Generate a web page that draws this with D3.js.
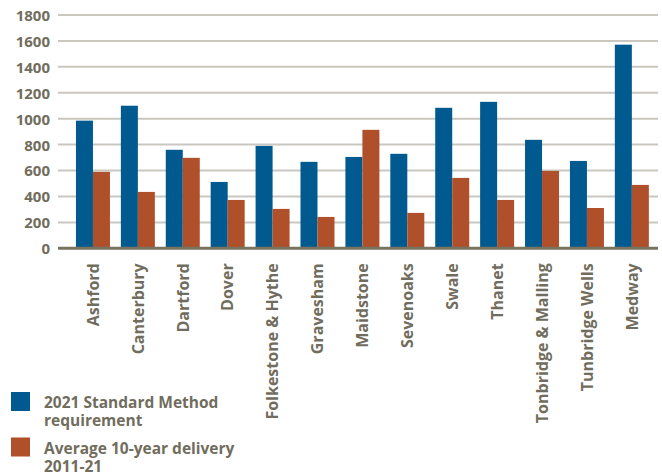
<!DOCTYPE html>
<html>
<head>
<meta charset="utf-8">
<script src="https://cdn.jsdelivr.net/npm/d3@7"></script>
<style>
  body { margin: 0; background: #fff; }
  svg text { font-family: "Open Sans", sans-serif; font-weight: bold; fill: #716d5e; }
</style>
</head>
<body>
<svg id="chart" width="662" height="476"></svg>
<script>
// councils along the x axis
const councils = ['Ashford', 'Canterbury', 'Dartford', 'Dover', 'Folkestone & Hythe', 'Gravesham',
  'Maidstone', 'Sevenoaks', 'Swale', 'Thanet', 'Tonbridge & Malling', 'Tunbridge Wells', 'Medway'];

// 2021 standard method requirement
const standardMethod = [985, 1100, 760, 512, 790, 667, 705, 729, 1084, 1130, 837, 674, 1571];
// average 10-year delivery 2011-21
const avgDelivery = [590, 435, 698, 373, 304, 242, 914, 273, 543, 373, 597, 311, 489];

const yTicks = [0, 200, 400, 600, 800, 1000, 1200, 1400, 1600, 1800];
const seriesNames = [['2021 Standard Method', 'requirement'], ['Average 10-year delivery', '2011-21']];
const colors = ['#005a8f', '#b0502a'];

const svg = d3.select('#chart');
const plotLeft = 58, plotRight = 658;

let y = d3.scaleLinear().domain([0, 1800]).range([248.3, 15]);

let x = d3.scaleBand().domain(councils)
  .range([70.5, 654.3])
  .paddingInner(0.243)
  .paddingOuter(0.1215);

let xs = d3.scaleBand().domain([0, 1]).range([0, x.bandwidth()]);

// gridlines
svg.append('g').selectAll('line')
  .data(yTicks.filter(d => d > 0))
  .enter().append('line')
  .attr('x1', plotLeft)
  .attr('x2', plotRight)
  .attr('y1', d => y(d))
  .attr('y2', d => y(d))
  .attr('stroke', '#c9c7c0')
  .attr('stroke-width', 2);

// y axis labels
let yAxis = d3.axisLeft(y).tickValues(yTicks).tickFormat(d3.format('d')).tickSize(0).tickPadding(0);
let yg = svg.append('g').attr('transform', 'translate(50,0)').call(yAxis);
yg.select('.domain').remove();
yg.selectAll('text').style('font-size', '15px').attr('dy', '0.36em');

// bars
let data = councils.map((c, i) => ({ name: c, vals: [standardMethod[i], avgDelivery[i]] }));
let groups = svg.append('g').selectAll('g')
  .data(data)
  .enter().append('g')
  .attr('transform', d => 'translate(' + x(d.name) + ',0)');

groups.selectAll('rect')
  .data(d => d.vals.map((v, k) => ({ k: k, v: v })))
  .enter().append('rect')
  .attr('x', d => xs(d.k))
  .attr('width', xs.bandwidth())
  .attr('y', d => y(d.v))
  .attr('height', d => y(0) - y(d.v))
  .attr('fill', d => colors[d.k]);

// baseline
svg.append('line')
  .attr('x1', plotLeft)
  .attr('x2', plotRight)
  .attr('y1', y(0))
  .attr('y2', y(0))
  .attr('stroke', '#77735f')
  .attr('stroke-width', 3);

// category labels
let xAxis = d3.axisBottom(x).tickSize(0).tickPadding(0);
let xg = svg.append('g').attr('transform', 'translate(0,' + y(0) + ')').call(xAxis);
xg.select('.domain').remove();
xg.selectAll('text')
  .style('font-size', '16px')
  .attr('text-anchor', 'end')
  .attr('transform', 'translate(0,15) rotate(-90)')
  .attr('x', 0)
  .attr('y', 0)
  .attr('dy', '0.36em');

// legend
let legend = svg.append('g').selectAll('g')
  .data(seriesNames)
  .enter().append('g')
  .attr('transform', (d, i) => 'translate(11,' + (392 + i * 45.5) + ')');

legend.append('rect')
  .attr('width', 19)
  .attr('height', 19)
  .attr('fill', (d, i) => colors[i]);

legend.append('text')
  .attr('x', 33)
  .attr('y', 16)
  .style('font-size', '15.5px')
  .selectAll('tspan')
  .data(d => d)
  .enter().append('tspan')
  .attr('x', 33)
  .attr('dy', (d, i) => i === 0 ? 0 : 18.3)
  .text(d => d);
</script>
</body>
</html>
